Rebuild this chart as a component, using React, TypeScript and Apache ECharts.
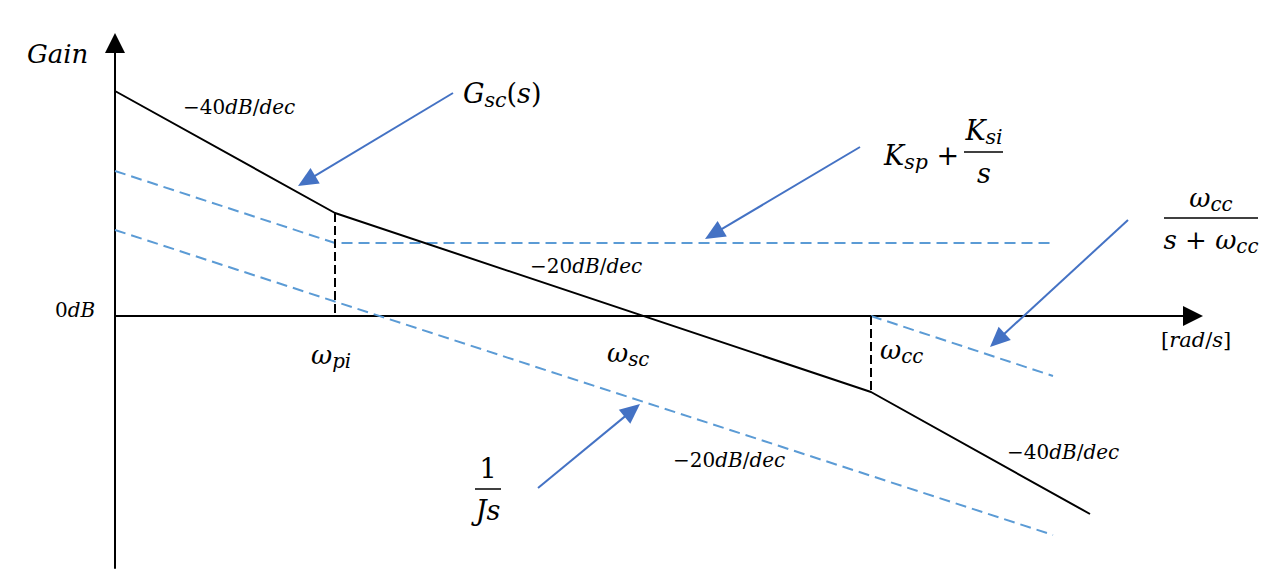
import React, { useEffect, useRef } from "react";
import * as echarts from "echarts";

// Coordinates: x = log-frequency position (px from gain axis), y = gain (px above 0 dB)
const gscX = [0, 220, 756, 975];
const gscY = [225, 103, -76, -198];
const piX = [0, 220, 940];
const piY = [145, 73, 73];
const integX = [0, 938];
const integY = [86, -219];
const filtX = [756, 938];
const filtY = [0, -60];
const wpi = 220;
const wcc = 756;
// pointer arrows: [fromX, fromY, tipX, tipY]
const pointers = [
  [338, 223, 183, 130],
  [745, 169, 590, 77],
  [1013, 96, 875, -31],
  [423, -172, 525, -88],
];

const X_MAX = 1078;
const Y_MIN = -252;
const Y_MAX = 273;

const F = "DejaVu Serif";
const BLUE_D = "#5B9BD5";
const BLUE_A = "#4472C4";
const HEAD = 20;

const zip = (xs: number[], ys: number[]) => xs.map((x, i) => [x, ys[i]]);

const rich = (base: number) => ({
  i: { fontFamily: F, fontStyle: "italic", fontSize: base, fill: "#000", lineHeight: base * 1.3, verticalAlign: "middle" },
  n: { fontFamily: F, fontSize: base, fill: "#000", lineHeight: base * 1.3 },
  s: { fontFamily: F, fontStyle: "italic", fontSize: base * 0.76, fill: "#000", lineHeight: base * 1.3, verticalAlign: "bottom" },
});

const txt = (x: number, y: number, text: string, size: number, align = "left") => ({
  type: "text",
  x,
  y,
  style: { text, rich: rich(size), textAlign: align, textVerticalAlign: "middle" },
});

export default function App() {
  const ref = useRef<HTMLDivElement>(null);
  useEffect(() => {
    const chart = echarts.init(ref.current!, null, { renderer: "svg" });
    const lineS = (data: number[][], color: string, type: any) => ({
      type: "line",
      data,
      symbol: "none",
      silent: true,
      lineStyle: { color, width: 2, type },
    });
    // the markLine head is centred on its end point: pull the end back by half the head length
    const arrowData = pointers.map((p) => {
      const dx = p[2] - p[0];
      const dy = p[3] - p[1];
      const len = Math.hypot(dx, dy);
      const k = (HEAD / 2) / len;
      return [{ coord: [p[0], p[1]] }, { coord: [p[2] - dx * k, p[3] - dy * k] }];
    });
    chart.setOption({
      animation: false,
      grid: { left: 115, right: 85, top: 43, bottom: 17 },
      xAxis: {
        type: "value",
        min: 0,
        max: X_MAX,
        axisLine: { show: true, onZero: true, symbol: ["none", "triangle"], symbolSize: [20, 20], lineStyle: { color: "#000", width: 2 } },
        axisTick: { show: false },
        axisLabel: { show: false },
        splitLine: { show: false },
      },
      yAxis: {
        type: "value",
        min: Y_MIN,
        max: Y_MAX,
        axisLine: { show: true, onZero: false, symbol: ["none", "triangle"], symbolSize: [20, 20], lineStyle: { color: "#000", width: 2 } },
        axisTick: { show: false },
        axisLabel: { show: false },
        splitLine: { show: false },
      },
      series: [
        lineS(zip(piX, piY), BLUE_D, [11, 6]),
        lineS(zip(integX, integY), BLUE_D, [11, 6]),
        lineS(zip(filtX, filtY), BLUE_D, [11, 6]),
        lineS([[wpi, gscY[1]], [wpi, 0]], "#000", [9, 4]),
        lineS([[wcc, 0], [wcc, gscY[2]]], "#000", [9, 4]),
        lineS(zip(gscX, gscY), "#000", "solid"),
        {
          type: "line",
          data: [],
          markLine: {
            silent: true,
            symbol: ["none", "triangle"],
            symbolSize: [18, HEAD],
            label: { show: false },
            lineStyle: { color: BLUE_A, width: 2, type: "solid" },
            data: arrowData,
          },
        },
      ],
      graphic: [
        txt(27, 54, "{i|Gain}", 26),
        txt(55, 310, "{n|0}{i|dB}", 20),
        txt(183, 107, "{n|−40}{i|dB}{n|/}{i|dec}", 20),
        txt(530, 266, "{n|−20}{i|dB}{n|/}{i|dec}", 20),
        txt(673, 460, "{n|−20}{i|dB}{n|/}{i|dec}", 20),
        txt(1007, 452, "{n|−40}{i|dB}{n|/}{i|dec}", 20),
        txt(1161, 340, "{n|[}{i|rad}{n|/}{i|s}{n|]}", 21),
        txt(311, 355, "{i|ω}{s|pi}", 26),
        txt(607, 353, "{i|ω}{s|sc}", 26),
        txt(880, 350, "{i|ω}{s|cc}", 26),
        txt(463, 93, "{i|G}{s|sc}{n|(}{i|s}{n|)}", 27),
        txt(884, 155, "{i|K}{s|sp}{n| +}", 27),
        txt(984, 130, "{i|K}{s|si}", 27, "center"),
        { type: "line", shape: { x1: 964, y1: 152, x2: 1003, y2: 152 }, style: { stroke: "#000", lineWidth: 1.5 } },
        txt(984, 173, "{i|s}", 27, "center"),
        txt(1211, 198, "{i|ω}{s|cc}", 26, "center"),
        { type: "line", shape: { x1: 1164, y1: 218, x2: 1258, y2: 218 }, style: { stroke: "#000", lineWidth: 1.5 } },
        txt(1211, 240, "{i|s}{n| + }{i|ω}{s|cc}", 26, "center"),
        txt(488, 468, "{n|1}", 27, "center"),
        { type: "line", shape: { x1: 475, y1: 489, x2: 501, y2: 489 }, style: { stroke: "#000", lineWidth: 1.5 } },
        txt(488, 510, "{i|Js}", 27, "center"),
      ],
    });
    return () => chart.dispose();
  }, []);
  return <div ref={ref} style={{ position: "absolute", left: 0, top: 0, width: 1278, height: 585, background: "#fff" }} />;
}
